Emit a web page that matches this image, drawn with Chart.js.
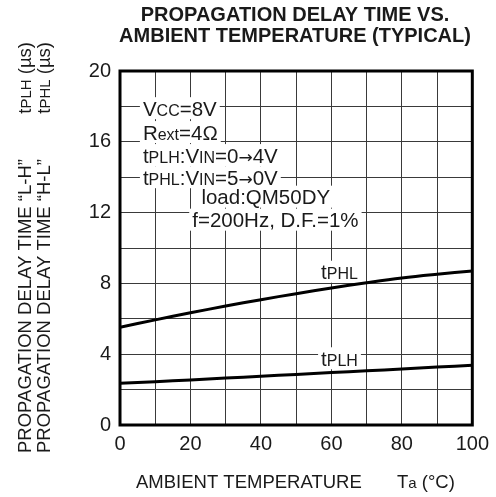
<!DOCTYPE html>
<html>
<head>
<meta charset="utf-8">
<script src="https://cdn.jsdelivr.net/npm/chart.js@4.4.1/dist/chart.umd.min.js"></script>
<style>
  html, body { margin: 0; padding: 0; background: #fff; }
  #c { display: block; }
</style>
</head>
<body>
<canvas id="c" width="496" height="497"></canvas>
<script>
// ---- Data ----
const temperatures = [0, 10, 20, 30, 40, 50, 60, 70, 80, 90, 100];           // Ta (°C)
const tPHL = [5.52, 5.94, 6.34, 6.72, 7.08, 7.42, 7.74, 8.04, 8.31, 8.52, 8.70]; // µs
const tPLH = [2.36, 2.45, 2.54, 2.65, 2.75, 2.86, 2.96, 3.06, 3.16, 3.27, 3.37]; // µs
const xTickLabels = [0, 20, 40, 60, 80, 100];
const yTickLabels = [0, 4, 8, 12, 16, 20];

const FONT = '"Liberation Sans", Arial, Helvetica, sans-serif';
const ARROWFONT = '"DejaVu Sans", sans-serif';
const INK = '#1a1a1a';
const SMALL = 0.8;

function segFont(size, sg, bold) {
  const sz = sg.s ? Math.round(size * SMALL) : (sg.a ? Math.round(size * 0.85) : size);
  return (bold ? 'bold ' : '') + sz + 'px ' + (sg.a ? ARROWFONT : FONT);
}
function richWidth(ctx, segs, size) {
  let w = 0;
  for (const sg of segs) { ctx.font = segFont(size, sg); w += ctx.measureText(sg.t).width; }
  return w;
}
function drawRich(ctx, segs, x, y, size) { // x left, y baseline
  ctx.textAlign = 'left';
  ctx.textBaseline = 'alphabetic';
  let cx = x;
  for (const sg of segs) {
    ctx.font = segFont(size, sg);
    ctx.fillText(sg.t, cx, y);
    cx += ctx.measureText(sg.t).width;
  }
  return cx;
}

// annotations inside plot: left x (data), centre y (data)
const annotations = [
  { x: 6.5, y: 17.9, segs: [{t:'V'},{t:'CC',s:1},{t:'=8V'}] },
  { x: 6.5, y: 16.55, segs: [{t:'R'},{t:'ext',s:1},{t:'=4Ω'}] },
  { x: 6.5, y: 15.25, segs: [{t:'t'},{t:'PLH',s:1},{t:':V'},{t:'IN',s:1},{t:'=0'},{t:'→',a:1},{t:'4V'}] },
  { x: 6.5, y: 14.0, segs: [{t:'t'},{t:'PHL',s:1},{t:':V'},{t:'IN',s:1},{t:'=5'},{t:'→',a:1},{t:'0V'}] },
  { x: 23.1, y: 12.9, segs: [{t:'load:QM50DY'}] },
  { x: 20.5, y: 11.6, segs: [{t:'f=200Hz, D.F.=1%'}] },
];
const curveLabels = [
  { x: 62.3, y: 8.66, segs: [{t:'t'},{t:'PHL',s:1}] },
  { x: 62.3, y: 3.77, segs: [{t:'t'},{t:'PLH',s:1}] },
];

const textPlugin = {
  id: 'texts',
  beforeDatasetsDraw(chart) {
    const ctx = chart.ctx;
    const xs = chart.scales.x, ys = chart.scales.y;
    const size = 20.5;
    ctx.save();
    const box = (segs, left, cy) => {
      const w = richWidth(ctx, segs, size);
      ctx.fillStyle = '#fff';
      ctx.fillRect(left - 3, cy - 11, w + 6, 22);
      ctx.fillStyle = INK;
      drawRich(ctx, segs, left, cy + 7.5, size);
    };
    for (const a of annotations) box(a.segs, xs.getPixelForValue(a.x), ys.getPixelForValue(a.y));
    for (const a of curveLabels) {
      const w = richWidth(ctx, a.segs, size);
      box(a.segs, xs.getPixelForValue(a.x) - w / 2, ys.getPixelForValue(a.y));
    }
    ctx.restore();
  },
  afterDraw(chart) {
    const ctx = chart.ctx;
    const a = chart.chartArea;
    ctx.save();
    // frame
    ctx.strokeStyle = '#000';
    ctx.lineWidth = 3;
    ctx.strokeRect(a.left, a.top, a.right - a.left, a.bottom - a.top);
    // title
    ctx.fillStyle = INK;
    ctx.textAlign = 'center';
    ctx.textBaseline = 'middle';
    ctx.font = 'bold 20px ' + FONT;
    ctx.fillText('PROPAGATION DELAY TIME VS.', 295, 15);
    ctx.fillText('AMBIENT TEMPERATURE (TYPICAL)', 295, 36);
    // x-axis title
    const xs = 18.5;
    ctx.textBaseline = 'alphabetic';
    ctx.font = xs + 'px ' + FONT;
    ctx.textAlign = 'left';
    ctx.fillText('AMBIENT TEMPERATURE', 136, 488);
    drawRich(ctx, [{t:'T'},{t:'a',s:1},{t:' (°C)'}], 397, 488, xs);
    // y-axis titles (rotated)
    const lines = [
      { cx: 24, main: 'PROPAGATION DELAY TIME “L-H”', segs: [{t:'t'},{t:'PLH',s:1},{t:' (µs)'}] },
      { cx: 43, main: 'PROPAGATION DELAY TIME “H-L”', segs: [{t:'t'},{t:'PHL',s:1},{t:' (µs)'}] },
    ];
    for (const L of lines) {
      ctx.save();
      ctx.translate(L.cx + 7, 453);
      ctx.rotate(-Math.PI / 2);
      ctx.font = xs + 'px ' + FONT;
      ctx.textAlign = 'left';
      ctx.fillText(L.main, 0, 0);
      const w = richWidth(ctx, L.segs, xs);
      drawRich(ctx, L.segs, 411 - w, 0, xs);
      ctx.restore();
    }
    ctx.restore();
  }
};

const ds = (label, arr) => ({
  label,
  data: temperatures.map((t, i) => ({ x: t, y: arr[i] })),
  borderColor: '#000',
  borderWidth: 3,
  pointRadius: 0,
  tension: 0.4,
  fill: false,
});

new Chart(document.getElementById('c'), {
  type: 'line',
  data: { datasets: [ds('tPHL', tPHL), ds('tPLH', tPLH)] },
  options: {
    responsive: false,
    animation: false,
    devicePixelRatio: 1,
    layout: { padding: { top: 71, right: 22, left: 0, bottom: 0 } },
    plugins: { legend: { display: false }, tooltip: { enabled: false }, title: { display: false } },
    scales: {
      x: {
        type: 'linear', min: 0, max: 100,
        afterFit(s) { s.height = 72; },
        border: { display: false },
        grid: { color: '#3a3a3a', lineWidth: 1, drawTicks: false },
        ticks: {
          stepSize: 10, padding: 7, color: INK, maxRotation: 0, autoSkip: false,
          font: { size: 20, family: FONT },
          callback: v => xTickLabels.includes(v) ? String(v) : ''
        }
      },
      y: {
        type: 'linear', min: 0, max: 20,
        afterFit(s) { s.width = 120; },
        border: { display: false },
        grid: { color: '#3a3a3a', lineWidth: 1, drawTicks: false },
        ticks: {
          stepSize: 2, padding: 9, color: INK, autoSkip: false,
          font: { size: 20, family: FONT },
          callback: v => yTickLabels.includes(v) ? String(v) : ''
        }
      }
    }
  },
  plugins: [textPlugin]
});
</script>
</body>
</html>
